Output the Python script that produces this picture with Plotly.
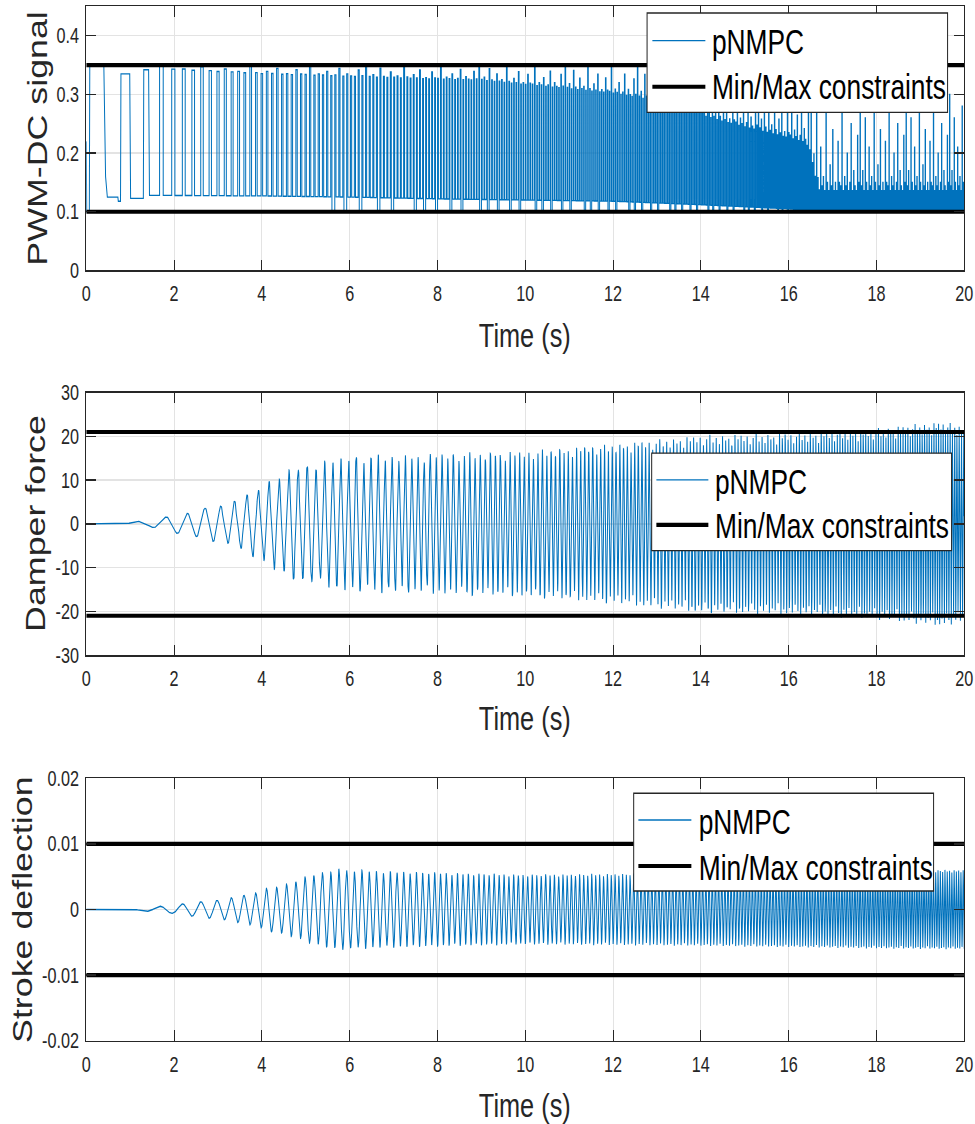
import numpy as np
import plotly.graph_objects as go

# ---------------- values ----------------
time_ticks = [0, 2, 4, 6, 8, 10, 12, 14, 16, 18, 20]
time_tick_labels = ["0", "2", "4", "6", "8", "10", "12", "14", "16", "18", "20"]

pwm_ticks = [0, 0.1, 0.2, 0.3, 0.4]
pwm_tick_labels = ["0", "0.1", "0.2", "0.3", "0.4"]
force_ticks = [-30, -20, -10, 0, 10, 20, 30]
force_tick_labels = ["-30", "-20", "-10", "0", "10", "20", "30"]
stroke_ticks = [-0.02, -0.01, 0, 0.01, 0.02]
stroke_tick_labels = ["-0.02", "-0.01", "0", "0.01", "0.02"]

pwm_limits = [0.10, 0.35]
force_limits = [-21, 21]
stroke_limits = [-0.01, 0.01]

# excitation frequency read from the spacing of the stroke peaks (s -> Hz)
freq_t = [0.0, 1.0, 1.5, 1.9, 2.4, 2.8, 3.15, 3.75, 4.1, 5.0, 5.5, 7.0, 11.0, 20.0]
freq_hz = [0.6, 1.0, 1.5, 1.9, 2.4, 2.7, 3.1, 3.8, 4.2, 4.9, 5.3, 6.5, 10.5, 19.5]
first_stroke_peak = 1.67

# stroke deflection peak envelope (m) and cycle-to-cycle peak ratios
stroke_env_t = [0.0, 0.5, 0.9, 1.35, 1.67, 2.0, 2.2, 2.6, 3.0, 3.3, 3.6, 3.9, 4.1, 4.35,
                4.6, 4.8, 5.0, 5.2, 5.4, 5.7, 6.0, 7.0, 8.0, 10.0, 12.0, 14.0, 16.0,
                18.0, 20.0]
stroke_env = [0.0, 0.00005, 0.0001, 0.0003, 0.0005, 0.0006, 0.0009, 0.0012, 0.0015,
              0.0018, 0.0022, 0.0027, 0.0032, 0.0035, 0.0040, 0.0045, 0.0050, 0.0053,
              0.0057, 0.0062, 0.0060, 0.0058, 0.0056, 0.0053, 0.0054, 0.0055, 0.0057,
              0.0059, 0.0060]
stroke_peak_ratio = [1.0, 0.97, 0.99, 0.95, 1.0, 0.98, 0.96, 1.01, 0.97, 0.99, 0.94]

# damper force peak envelope (N) and cycle-to-cycle peak ratios
force_env_t = [0.0, 0.8, 1.0, 1.5, 1.8, 2.0, 2.3, 2.5, 2.7, 2.9, 3.1, 3.3, 3.5, 3.7,
               4.0, 4.3, 4.6, 5.0, 5.5, 6.0, 8.0, 10.0, 12.0, 14.0, 16.0, 18.0, 19.5, 20.0]
force_env = [0.0, 0.1, 0.5, 0.8, 1.5, 2.0, 2.5, 3.0, 3.5, 4.0, 4.5, 5.0, 5.5, 6.5,
             8.5, 10.5, 12.0, 13.0, 14.0, 15.0, 15.5, 16.0, 17.5, 19.5, 20.0, 21.0,
             22.5, 21.5]
force_peak_ratio = [1.0, 0.94, 0.99, 0.9, 0.97, 1.02, 0.93, 0.98, 0.91, 1.0, 0.95, 0.97,
                    0.89, 1.01, 0.96]

# PWM duty-cycle: first switching events read one by one
pwm_start_t = [0.0, 0.01, 0.07, 0.08, 0.40, 0.44, 0.48, 0.72, 0.73, 0.78, 0.79, 0.99,
               1.01, 1.30, 1.31, 1.42, 1.44]
pwm_start_v = [0.22, 0.10, 0.10, 0.35, 0.35, 0.16, 0.125, 0.125, 0.118, 0.118, 0.335,
               0.335, 0.123, 0.123, 0.342, 0.342, 0.128]
# later pulses (one at every stroke extreme): levels
pwm_hi_t = [1.5, 4.0, 8.0, 12.0, 14.0, 16.4, 16.7, 20.0]
pwm_hi = [0.348, 0.35, 0.35, 0.352, 0.34, 0.33, 0.30, 0.30]
pwm_lo_t = [1.5, 4.0, 6.0, 8.0, 10.0, 12.0, 14.0, 16.0, 16.6, 20.0]
pwm_lo = [0.128, 0.127, 0.125, 0.122, 0.12, 0.118, 0.112, 0.105, 0.10, 0.10]
pwm_mix_t = [1.5, 4.0, 9.0, 11.0, 13.0, 14.5, 16.4, 16.7, 20.0]
pwm_mix = [0.02, 0.08, 0.14, 0.22, 0.3, 0.45, 0.6, 1.0, 1.0]
pwm_height_pattern = [1.0, 0.22, 0.35, 0.18, 0.8, 0.25, 0.18, 0.55, 0.22, 0.3, 0.18, 0.9,
                      0.25, 0.18, 0.4, 0.22, 0.7, 0.18, 0.25, 0.18, 0.6, 0.25, 0.22, 0.95,
                      0.18, 0.3, 0.22, 0.5, 0.18, 0.25, 0.75, 0.18, 0.35, 0.22, 0.18, 0.65, 0.25]
pwm_dip_pattern = [0, 0, 0, 0, 0, 1, 0, 0, 1, 0, 0, 0, 1, 0, 0, 0, 0, 1, 0, 0, 0, 1, 0]
pwm_duty = 0.3

# ---------------- build the signals ----------------
t = np.linspace(0.0, 20.0, 20001)
f = np.interp(t, freq_t, freq_hz)
ph = np.concatenate([[0.0], np.cumsum(0.5 * (f[1:] + f[:-1]) * np.diff(t))]) * 2 * np.pi
ph = ph - np.interp(first_stroke_peak, t, ph)

s_cycle = np.floor((ph + np.pi / 2) / (2 * np.pi)).astype(int) % len(stroke_peak_ratio)
stroke = (np.interp(t, stroke_env_t, stroke_env) * np.array(stroke_peak_ratio)[s_cycle]
          * np.cos(ph))
f_cycle = np.floor(ph / (2 * np.pi)).astype(int) % len(force_peak_ratio)
force = (np.interp(t, force_env_t, force_env) * np.array(force_peak_ratio)[f_cycle]
         * (np.sin(ph) - 0.12 * np.sin(3 * ph) + 0.05 * np.sin(7 * ph)) / 1.05)

k0 = int(np.ceil(np.interp(1.55, t, ph) / np.pi))
k1 = int(np.floor(ph[-1] / np.pi))
edges = np.interp(np.arange(k0, k1 + 2) * np.pi, ph, t)
edges[-1] = max(edges[-1], 20.0)
pwm_x = list(pwm_start_t)
pwm_y = list(pwm_start_v)
lo_prev = pwm_start_v[-1]
for i in range(len(edges) - 1):
    rise = edges[i]
    if rise >= 20.0:
        break
    fall = min(rise + pwm_duty * (edges[i + 1] - rise), 20.0)
    hi = np.interp(rise, pwm_hi_t, pwm_hi)
    lo = np.interp(rise, pwm_lo_t, pwm_lo)
    mix = np.interp(rise, pwm_mix_t, pwm_mix)
    g = pwm_height_pattern[i % len(pwm_height_pattern)]
    peak = lo + (hi - lo) * (1 - mix * (1 - g))
    lo_next = 0.10 if pwm_dip_pattern[i % len(pwm_dip_pattern)] and rise > 5.5 else lo
    pwm_x += [rise, rise, fall, fall]
    pwm_y += [lo_prev, peak, peak, lo_next]
    lo_prev = lo_next
pwm_x.append(20.0)
pwm_y.append(lo_prev)

# ---------------- figure ----------------
# The reference is a vertically stretched MATLAB figure: draw at a lower height and
# stretch the page vertically to 1124 px.
W, H_FULL = 975, 1124
H = 865
STRETCH = H_FULL / H
BLUE = "#0072BD"
FONT = "Liberation Sans, Arial, Helvetica, sans-serif"
AX = "#262626"


def px(x):
    return x / W


def py(y):
    return 1 - y / H_FULL


x_dom = [px(86.7), px(965.0)]
panels = [
    dict(top=6.7, bot=270.7, rng=[0, 0.45], ticks=pwm_ticks, labels=pwm_tick_labels,
         title="PWM-DC signal", title_x=37.5, xtitle_y=336),
    dict(top=392.7, bot=655.3, rng=[-30, 30], ticks=force_ticks, labels=force_tick_labels,
         title="Damper force", title_x=37, xtitle_y=718),
    dict(top=778.3, bot=1040.7, rng=[-0.02, 0.02], ticks=stroke_ticks, labels=stroke_tick_labels,
         title="Stroke deflection", title_x=23, xtitle_y=1105),
]

fig = go.Figure()
series = [(pwm_x, pwm_y, pwm_limits), (t, force, force_limits), (t, stroke, stroke_limits)]
for i, (xs, ys, lims) in enumerate(series):
    ax = "" if i == 0 else str(i + 1)
    fig.add_trace(go.Scatter(x=xs, y=ys, mode="lines", name="pNMPC",
                             line=dict(color=BLUE, width=1), showlegend=False,
                             xaxis="x" + ax, yaxis="y" + ax))
    for lv in lims:
        fig.add_trace(go.Scatter(x=[time_ticks[0], time_ticks[-1]], y=[lv, lv], mode="lines",
                                 name="Min/Max constraints", line=dict(color="black", width=3.1),
                                 showlegend=False, xaxis="x" + ax, yaxis="y" + ax))

layout = dict(width=W, height=H, margin=dict(l=0, r=0, t=0, b=0),
              paper_bgcolor="white", plot_bgcolor="white", showlegend=False)
annotations = []
shapes = []
for i, p in enumerate(panels):
    key = "" if i == 0 else str(i + 1)
    layout["xaxis" + key] = dict(
        domain=x_dom, range=[0, 20], anchor="y" + key, tickvals=time_ticks,
        ticktext=time_tick_labels, ticks="inside", ticklen=8, tickcolor=AX,
        showline=True, linecolor=AX, linewidth=1, mirror="ticks", showgrid=True,
        gridcolor="#e3e3e3", gridwidth=1, zeroline=False,
        tickfont=dict(family=FONT, size=16, color=AX), ticklabelstandoff=3)
    layout["yaxis" + key] = dict(
        domain=[py(p["bot"]), py(p["top"])], range=p["rng"], anchor="x" + key,
        tickvals=p["ticks"], ticktext=p["labels"], ticks="inside", ticklen=10, tickcolor=AX,
        showline=True, linecolor=AX, linewidth=1, mirror="ticks", showgrid=True,
        gridcolor="#e3e3e3", gridwidth=1, zeroline=False,
        tickfont=dict(family=FONT, size=16, color=AX), ticklabelstandoff=3)
    annotations.append(dict(text="Time (s)", xref="paper", yref="paper", x=px(526),
                            y=py(p["xtitle_y"]), xanchor="center", yanchor="middle",
                            showarrow=False, font=dict(family=FONT, size=25, color=AX)))
    annotations.append(dict(text=p["title"], xref="paper", yref="paper", x=px(p["title_x"]),
                            y=py((p["top"] + p["bot"]) / 2), xanchor="center",
                            yanchor="middle", textangle=-90, showarrow=False,
                            font=dict(family=FONT, size=27, color=AX)))

legends = [
    dict(box=(647.7, 948.3, 13.3, 112.7), sample=(653, 706), rows=(41, 87), text_x=710, text_y=(43, 88)),
    dict(box=(652.3, 952.3, 453.3, 550.7), sample=(657, 709), rows=(480, 525), text_x=714, text_y=(482, 526)),
    dict(box=(634.3, 934.3, 793.3, 891.0), sample=(639, 692), rows=(820, 866), text_x=697, text_y=(822, 868)),
]
for lg in legends:
    x0, x1, y0, y1 = lg["box"]
    shapes.append(dict(type="rect", xref="paper", yref="paper", x0=px(x0), x1=px(x1),
                       y0=py(y1), y1=py(y0), fillcolor="white",
                       line=dict(color=AX, width=1), layer="above"))
    s0, s1 = lg["sample"]
    shapes.append(dict(type="line", xref="paper", yref="paper", x0=px(s0), x1=px(s1),
                       y0=py(lg["rows"][0]), y1=py(lg["rows"][0]),
                       line=dict(color=BLUE, width=1), layer="above"))
    shapes.append(dict(type="line", xref="paper", yref="paper", x0=px(s0), x1=px(s1),
                       y0=py(lg["rows"][1]), y1=py(lg["rows"][1]),
                       line=dict(color="black", width=3.1), layer="above"))
    for txt, ty in zip(["pNMPC", "Min/Max constraints"], lg["text_y"]):
        annotations.append(dict(text=txt, xref="paper", yref="paper", x=px(lg["text_x"]),
                                y=py(ty), xanchor="left", yanchor="middle", showarrow=False,
                                font=dict(family=FONT, size=26, color="black")))

layout["annotations"] = annotations
layout["shapes"] = shapes
fig.update_layout(**layout)

# page placement: stretch vertically and compensate the photographed framing
SX, TX = 1 / 0.987, -4.4 / 0.987
SY, TY = STRETCH / 0.980, -10.7 / 0.980
post = ("document.documentElement.style.margin='0';document.body.style.margin='0';"
        "document.body.style.padding='0';document.body.style.overflow='hidden';"
        "document.documentElement.style.overflow='hidden';"
        "var gd=document.getElementById('{plot_id}');"
        "gd.style.transformOrigin='0 0';"
        "gd.style.transform='translate(%.3fpx,%.3fpx) scale(%.6f,%.6f)';" % (TX, TY, SX, SY))
fig.write_html("out.html", post_script=post, config={"displayModeBar": False})
